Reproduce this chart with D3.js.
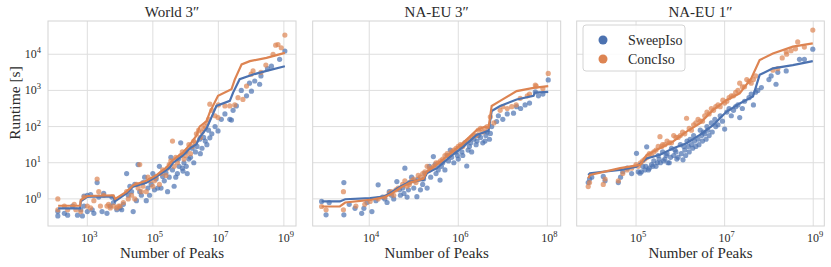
<!DOCTYPE html>
<html>
<head>
<meta charset="utf-8">
<script src="https://cdn.jsdelivr.net/npm/d3@7"></script>
<style>
  body { margin: 0; background: #fff; }
  text { font-family: "Liberation Serif", "DejaVu Serif", serif; fill: #2b2b2b; }
</style>
</head>
<body>
<svg width="831" height="267"></svg>
<script>
// all values are log10 exponents: [log10(peaks), log10(runtime seconds)]
const seriesNames = ['SweepIso', 'ConcIso'];
const panelTitles = ['World 3\u2033', 'NA-EU 3\u2033', 'NA-EU 1\u2033'];
const yTickExps = [0, 1, 2, 3, 4];
const worldXTicks = [3, 5, 7, 9];
const naeu3XTicks = [4, 6, 8];
const naeu1XTicks = [5, 7, 9];

const worldSweepPts = [[2.1,-0.47],[2.1,-0.35],[2.3,-0.4],[2.4,-0.45],[2.55,-0.2],[2.7,-0.45],[2.8,-0.3],[2.85,-0.47],[2.9,-0.2],[2.9,0.08],[3.0,0.1],[3.0,-0.35],[3.1,0.12],[3.15,-0.3],[3.2,-0.4],[3.3,0.45],[3.35,0.05],[3.45,-0.35],[3.5,0.15],[3.6,-0.4],[3.7,-0.2],[3.75,0.05],[3.8,-0.1],[3.9,-0.3],[4.0,-0.25],[4.05,-0.3],[4.1,-0.15],[4.2,0.7],[4.25,0.1],[4.3,0.35],[4.35,0.2],[4.4,-0.35],[4.45,0.4],[4.5,-0.05],[4.55,0.95],[4.6,0.2],[4.65,0.1],[4.7,0.45],[4.75,0.6],[4.8,-0.05],[4.85,0.3],[4.9,0.1],[4.95,0.4],[5.0,0.7],[5.05,0.25],[5.1,0.55],[5.15,0.3],[5.2,0.9],[5.25,0.3],[5.3,0.62],[5.35,0.5],[5.4,0.72],[5.45,0.2],[5.5,0.6],[5.55,1.15],[5.6,0.8],[5.65,0.35],[5.7,0.6],[5.75,0.7],[5.78,1.1],[5.8,0.9],[5.85,1.55],[5.9,0.85],[5.92,0.77],[5.95,1.0],[6.0,1.3],[6.02,0.9],[6.05,0.7],[6.1,1.1],[6.15,1.15],[6.2,1.4],[6.25,1.0],[6.3,1.3],[6.35,1.45],[6.43,1.65],[6.45,1.25],[6.5,1.4],[6.55,1.7],[6.6,1.6],[6.65,1.5],[6.7,1.9],[6.74,1.69],[6.8,1.8],[6.9,2.0],[6.99,1.88],[7.09,2.2],[7.2,2.35],[7.35,2.2],[7.4,2.18],[7.45,2.45],[7.55,2.57],[7.7,3.0],[7.86,2.85],[7.95,3.2],[8.01,2.98],[8.11,3.26],[8.26,3.17],[8.3,3.4],[8.5,3.6],[8.62,3.67],[8.87,3.86],[9.03,4.09]];
const worldConcPts = [[2.1,0.0],[2.1,-0.3],[2.3,-0.2],[2.4,-0.3],[2.6,-0.15],[2.65,-0.3],[2.8,-0.35],[2.9,0.05],[3.0,-0.2],[3.1,-0.25],[3.2,-0.05],[3.3,0.55],[3.35,0.2],[3.4,-0.2],[3.5,0.1],[3.6,-0.2],[3.65,-0.15],[3.7,-0.25],[3.8,-0.2],[3.9,-0.25],[3.95,-0.2],[4.0,-0.2],[4.1,-0.1],[4.2,0.2],[4.25,0.0],[4.35,0.1],[4.45,0.0],[4.5,0.4],[4.55,0.3],[4.6,0.95],[4.65,0.2],[4.7,0.35],[4.8,0.2],[4.85,0.6],[4.9,0.5],[5.0,0.35],[5.05,0.5],[5.1,0.6],[5.2,0.4],[5.25,0.7],[5.3,0.8],[5.4,0.65],[5.45,0.85],[5.5,0.95],[5.55,1.05],[5.6,1.6],[5.65,0.9],[5.7,1.15],[5.75,1.0],[5.85,1.2],[5.9,1.3],[5.95,1.1],[6.0,1.2],[6.05,1.35],[6.1,1.5],[6.15,1.25],[6.2,1.45],[6.25,1.6],[6.3,1.55],[6.33,1.8],[6.4,1.9],[6.45,1.7],[6.5,1.85],[6.55,1.95],[6.6,2.0],[6.65,2.1],[6.7,2.2],[6.74,2.62],[6.8,2.45],[6.9,2.3],[6.99,2.25],[7.0,2.6],[7.2,2.57],[7.35,2.57],[7.5,2.6],[7.6,2.8],[7.75,2.75],[7.86,3.12],[8.0,3.45],[8.06,3.54],[8.3,3.5],[8.45,3.7],[8.67,4.0],[8.75,4.25],[8.82,4.27],[8.92,4.18],[9.03,4.53]];
const worldSweepLine = [[2.11,-0.26],[2.78,-0.26],[2.8,-0.07],[3.0,0.06],[3.8,0.06],[3.84,-0.07],[4.2,0.16],[4.4,0.34],[4.8,0.45],[5.11,0.62],[5.42,0.8],[5.52,0.87],[5.62,1.0],[5.92,1.2],[6.13,1.4],[6.33,1.51],[6.43,1.7],[6.64,1.95],[6.74,2.15],[6.94,2.57],[7.35,2.71],[7.45,2.94],[7.65,3.31],[8.06,3.44],[8.47,3.54],[9.03,3.67]];
const worldConcLine = [[2.11,-0.19],[2.78,-0.19],[2.8,-0.03],[3.0,0.08],[3.8,0.1],[3.85,0.0],[4.2,0.2],[4.4,0.38],[4.8,0.5],[5.11,0.66],[5.42,0.87],[5.62,1.08],[5.92,1.28],[6.13,1.5],[6.33,1.75],[6.43,2.0],[6.64,2.15],[6.74,2.4],[6.99,2.85],[7.4,3.03],[7.5,3.3],[7.71,3.72],[7.96,3.81],[8.47,3.9],[9.03,4.04]];

const naeu3SweepPts = [[2.93,-0.07],[3.03,-0.44],[3.1,-0.1],[3.43,0.45],[3.43,-0.44],[3.55,-0.15],[3.68,-0.26],[3.83,-0.4],[3.88,-0.26],[3.95,-0.1],[4.06,-0.35],[4.15,-0.05],[4.2,0.39],[4.3,0.05],[4.35,0.0],[4.4,-0.1],[4.45,0.2],[4.5,0.1],[4.55,0.0],[4.62,0.48],[4.68,0.25],[4.7,0.1],[4.75,0.3],[4.78,0.15],[4.8,0.85],[4.85,0.05],[4.88,0.25],[4.9,0.45],[4.95,0.6],[5.0,0.3],[5.02,0.5],[5.07,0.06],[5.1,0.55],[5.15,0.25],[5.2,0.4],[5.22,0.55],[5.25,0.7],[5.3,0.3],[5.35,0.9],[5.38,0.6],[5.44,1.17],[5.48,0.95],[5.5,0.7],[5.55,0.8],[5.59,0.52],[5.62,0.9],[5.65,1.0],[5.7,0.8],[5.75,1.2],[5.78,1.05],[5.82,1.35],[5.85,1.15],[5.9,1.0],[5.95,1.3],[5.98,1.2],[6.0,1.1],[6.05,1.45],[6.08,1.3],[6.1,1.2],[6.15,1.55],[6.19,0.91],[6.22,1.35],[6.25,1.45],[6.28,1.55],[6.3,1.3],[6.35,1.65],[6.4,1.5],[6.42,1.6],[6.45,1.75],[6.5,1.7],[6.55,1.55],[6.6,1.6],[6.62,1.75],[6.65,1.85],[6.7,1.65],[6.72,1.81],[6.75,2.0],[6.86,2.14],[6.9,2.3],[7.0,2.2],[7.1,2.35],[7.24,2.37],[7.31,2.55],[7.4,2.5],[7.5,2.6],[7.6,2.65],[7.73,2.96],[7.8,2.85],[7.9,2.9],[8.02,3.29]];
const naeu3ConcPts = [[2.93,-0.21],[3.03,-0.3],[3.42,0.2],[3.42,-0.3],[3.7,-0.2],[3.9,-0.15],[4.02,-0.07],[4.2,0.0],[4.35,0.05],[4.45,0.15],[4.5,0.2],[4.55,0.1],[4.6,0.25],[4.65,0.3],[4.75,0.4],[4.8,0.5],[4.85,0.35],[4.9,0.4],[4.95,0.5],[5.0,0.55],[5.05,0.45],[5.1,0.65],[5.15,0.6],[5.2,0.7],[5.25,0.75],[5.3,0.9],[5.35,0.8],[5.4,0.85],[5.45,0.9],[5.5,1.0],[5.55,1.0],[5.6,1.05],[5.65,1.1],[5.7,1.2],[5.75,1.25],[5.8,1.2],[5.85,1.3],[5.9,1.35],[5.95,1.4],[6.0,1.45],[6.05,1.5],[6.1,1.45],[6.15,1.55],[6.2,1.6],[6.25,1.65],[6.3,1.7],[6.35,1.75],[6.4,1.75],[6.45,1.9],[6.5,1.95],[6.55,1.85],[6.6,1.95],[6.65,2.0],[6.72,2.27],[6.8,2.1],[6.94,2.45],[7.0,2.55],[7.1,2.5],[7.2,2.55],[7.3,2.6],[7.39,2.78],[7.55,2.85],[7.6,2.9],[7.73,3.15],[7.75,3.12],[7.9,3.05],[8.02,3.47]];
const naeu3SweepLine = [[2.93,-0.07],[3.34,-0.07],[3.46,-0.01],[4.02,0.02],[4.32,0.06],[4.47,0.16],[4.69,0.34],[4.92,0.48],[5.22,0.52],[5.29,0.71],[5.52,0.85],[5.82,1.17],[6.11,1.44],[6.41,1.77],[6.68,1.88],[6.75,2.43],[6.94,2.57],[7.31,2.75],[7.69,2.85],[7.72,2.94],[8.02,2.96]];
const naeu3ConcLine = [[2.93,-0.21],[3.34,-0.21],[3.46,-0.1],[4.02,-0.03],[4.32,0.04],[4.47,0.12],[4.69,0.3],[4.92,0.45],[5.22,0.56],[5.29,0.75],[5.52,0.95],[5.82,1.25],[6.11,1.55],[6.41,1.9],[6.6,2.0],[6.68,1.97],[6.75,2.57],[6.94,2.71],[7.31,2.98],[7.69,3.07],[8.02,3.12]];

const naeu1SweepPts = [[3.92,0.45],[3.95,0.55],[4.0,0.6],[4.26,0.62],[4.3,0.5],[4.6,0.45],[4.65,0.6],[4.7,0.75],[4.8,0.85],[4.9,0.7],[5.01,1.26],[5.05,0.75],[5.09,0.71],[5.12,0.75],[5.15,0.9],[5.2,0.8],[5.22,0.9],[5.24,1.44],[5.28,0.8],[5.3,0.85],[5.35,0.95],[5.38,0.9],[5.4,1.05],[5.45,0.9],[5.48,1.0],[5.5,1.2],[5.52,1.1],[5.55,1.0],[5.6,1.3],[5.62,1.05],[5.65,1.1],[5.68,1.2],[5.7,1.25],[5.72,1.0],[5.75,1.0],[5.78,1.15],[5.8,1.4],[5.85,1.2],[5.88,1.35],[5.9,1.3],[5.92,1.1],[5.95,1.15],[6.0,1.5],[6.02,1.25],[6.06,1.08],[6.08,1.45],[6.1,1.35],[6.12,1.2],[6.15,1.6],[6.18,1.45],[6.2,1.3],[6.22,1.65],[6.25,1.5],[6.28,1.4],[6.3,1.75],[6.32,1.6],[6.35,1.45],[6.4,1.65],[6.42,1.5],[6.45,1.9],[6.48,1.75],[6.5,1.6],[6.52,1.85],[6.55,1.8],[6.58,1.65],[6.6,2.0],[6.62,1.9],[6.65,1.75],[6.7,2.1],[6.72,1.85],[6.78,2.2],[6.8,2.0],[6.85,2.05],[6.9,2.3],[6.95,2.15],[7.0,1.93],[7.05,2.4],[7.1,2.5],[7.15,2.3],[7.2,2.45],[7.25,2.55],[7.3,2.6],[7.34,2.25],[7.4,2.5],[7.45,2.7],[7.55,2.8],[7.6,2.9],[7.65,2.6],[7.7,2.95],[7.75,3.0],[7.83,3.08],[8.0,3.3],[8.05,3.4],[8.16,3.17],[8.2,3.5],[8.39,3.54],[8.69,3.86],[8.8,3.86],[8.99,4.14]];
const naeu1ConcPts = [[3.92,0.34],[3.95,0.45],[4.26,0.4],[4.3,0.55],[4.6,0.5],[4.7,0.7],[4.8,0.8],[4.9,0.85],[5.0,0.95],[5.05,0.9],[5.1,1.0],[5.15,1.05],[5.2,1.1],[5.25,1.15],[5.3,1.25],[5.35,1.2],[5.4,1.3],[5.45,1.35],[5.5,1.45],[5.54,1.72],[5.58,1.45],[5.6,1.5],[5.65,1.5],[5.7,1.6],[5.75,1.55],[5.8,1.55],[5.85,1.75],[5.9,1.7],[5.95,1.7],[6.0,1.75],[6.05,1.85],[6.1,1.8],[6.14,2.23],[6.2,1.95],[6.25,1.9],[6.3,2.05],[6.35,2.1],[6.4,2.2],[6.45,2.15],[6.5,2.15],[6.55,2.3],[6.6,2.4],[6.65,2.35],[6.7,2.5],[6.75,2.45],[6.8,2.55],[6.85,2.6],[6.9,2.55],[6.96,2.73],[7.0,2.65],[7.05,2.7],[7.1,2.8],[7.15,2.85],[7.2,2.85],[7.25,2.95],[7.3,3.0],[7.34,3.2],[7.4,3.1],[7.45,3.1],[7.5,3.3],[7.55,3.25],[7.6,3.2],[7.65,3.3],[7.7,3.4],[8.09,3.56],[8.2,3.6],[8.3,3.9],[8.39,4.07],[8.4,4.0],[8.5,4.1],[8.6,4.15],[8.65,4.34],[8.8,4.2],[8.99,4.67]];
const naeu1SweepLine = [[3.92,0.66],[3.96,0.71],[4.64,0.8],[5.01,0.89],[5.24,1.12],[5.54,1.22],[5.84,1.4],[6.14,1.54],[6.44,1.77],[6.74,2.04],[7.04,2.41],[7.34,2.64],[7.64,2.83],[7.79,3.43],[8.09,3.61],[8.54,3.7],[8.99,3.81]];
const naeu1ConcLine = [[3.92,0.57],[3.96,0.66],[4.64,0.85],[5.09,0.94],[5.24,1.22],[5.54,1.4],[5.84,1.59],[6.14,1.86],[6.44,2.09],[6.74,2.46],[7.04,2.73],[7.34,2.92],[7.6,3.33],[7.79,3.84],[8.09,4.02],[8.54,4.21],[8.99,4.3]];

const colors = ['#4c72b0', '#dd8452'];
const plotTop = 21, plotBottom = 226;
const panels = [
  { left: 48, width: 248, xDom: [1.8, 9.37], ticks: worldXTicks, pts: [worldSweepPts, worldConcPts], lines: [worldSweepLine, worldConcLine] },
  { left: 312.7, width: 248, xDom: [2.73, 8.3], ticks: naeu3XTicks, pts: [naeu3SweepPts, naeu3ConcPts], lines: [naeu3SweepLine, naeu3ConcLine] },
  { left: 576.7, width: 247.6, xDom: [3.66, 9.25], ticks: naeu1XTicks, pts: [naeu1SweepPts, naeu1ConcPts], lines: [naeu1SweepLine, naeu1ConcLine] }
];

const svg = d3.select('svg');
const yScale = d3.scaleLog().domain([10 ** -0.75, 10 ** 4.92]).range([plotBottom, plotTop]);
const toVal = d => [10 ** d[0], 10 ** d[1]];

function powLabel(sel, exp) {
  sel.text('10');
  sel.append('tspan').attr('dy', -5).style('font-size', '8.5px').text(exp);
}

panels.forEach((p, i) => {
  const xScale = d3.scaleLog().domain(p.xDom.map(e => 10 ** e)).range([p.left, p.left + p.width]);
  const g = svg.append('g');

  // grid
  g.selectAll('.vgrid').data(p.ticks).join('line')
    .attr('x1', e => xScale(10 ** e)).attr('x2', e => xScale(10 ** e))
    .attr('y1', plotTop).attr('y2', plotBottom)
    .attr('stroke', '#dedede').attr('stroke-width', 1);
  g.selectAll('.hgrid').data(yTickExps).join('line')
    .attr('x1', p.left).attr('x2', p.left + p.width)
    .attr('y1', e => yScale(10 ** e)).attr('y2', e => yScale(10 ** e))
    .attr('stroke', '#dedede').attr('stroke-width', 1);
  g.append('rect')
    .attr('x', p.left).attr('y', plotTop).attr('width', p.width).attr('height', plotBottom - plotTop)
    .attr('fill', 'none').attr('stroke', '#d4d4d4').attr('stroke-width', 1);

  // x tick labels
  g.selectAll('.xt').data(p.ticks).join('text')
    .attr('x', e => xScale(10 ** e) + 2).attr('y', 242)
    .attr('text-anchor', 'middle').style('font-size', '12px')
    .each(function (e) { powLabel(d3.select(this), e); });

  if (i === 0) {
    g.selectAll('.yt').data(yTickExps).join('text')
      .attr('x', p.left - 7).attr('y', e => yScale(10 ** e) + 4)
      .attr('text-anchor', 'end').style('font-size', '12px')
      .each(function (e) { powLabel(d3.select(this), e); });
    svg.append('text')
      .attr('transform', 'translate(20,103) rotate(-90)')
      .attr('text-anchor', 'middle').style('font-size', '15.5px')
      .text('Runtime [s]');
  }

  g.append('text')
    .attr('x', p.left + p.width / 2).attr('y', 17)
    .attr('text-anchor', 'middle').style('font-size', '15px')
    .text(panelTitles[i]);
  g.append('text')
    .attr('x', p.left + p.width / 2).attr('y', 258)
    .attr('text-anchor', 'middle').style('font-size', '15px')
    .text('Number of Peaks');

  const line = d3.line()
    .x(d => xScale(d[0]))
    .y(d => yScale(d[1]));

  p.pts.forEach((pts, s) => {
    g.append('g').selectAll('circle').data(pts.map(toVal)).join('circle')
      .attr('cx', d => xScale(d[0])).attr('cy', d => yScale(d[1]))
      .attr('r', 2.6)
      .attr('fill', colors[s]).attr('fill-opacity', 0.7);
  });
  p.lines.forEach((ln, s) => {
    g.append('path')
      .attr('d', line(ln.map(toVal)))
      .attr('fill', 'none').attr('stroke', colors[s]).attr('stroke-width', 2.2);
  });
});

// legend
const lg = svg.append('g').attr('transform', 'translate(583,25)');
lg.append('rect').attr('width', 102).attr('height', 46).attr('rx', 3)
  .attr('fill', '#fff').attr('fill-opacity', 0.85).attr('stroke', '#d4d4d4');
seriesNames.forEach((name, s) => {
  lg.append('circle').attr('cx', 20).attr('cy', 15 + s * 19).attr('r', 4.5).attr('fill', colors[s]);
  lg.append('text').attr('x', 45).attr('y', 20 + s * 19).style('font-size', '14px').text(name);
});
</script>
</body>
</html>
